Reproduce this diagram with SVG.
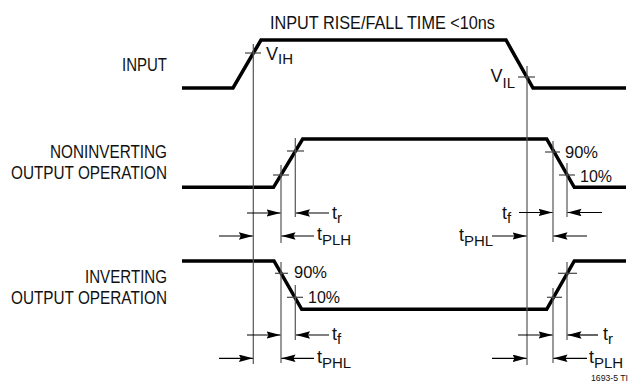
<svg xmlns="http://www.w3.org/2000/svg" width="629" height="385" viewBox="0 0 629 385">
<defs>
<marker id="ah" markerUnits="userSpaceOnUse" markerWidth="15" markerHeight="8" refX="14" refY="3.75" orient="auto">
<path d="M0,0 L14,3.75 L0,7.5 L2,3.75 Z" fill="#000"/>
</marker>
</defs>
<style>
text{font-family:"Liberation Sans","Arial",sans-serif;fill:#111;}
.lbl{font-size:18px;}
.sub{font-size:15px;}
.pct{font-size:17px;}
.wave{fill:none;stroke:#000;stroke-width:3.5;stroke-linejoin:miter;}
.vl{stroke:#555;stroke-width:1.2;fill:none;}
.tk{stroke:#444;stroke-width:1.2;fill:none;}
.ar{stroke:#000;stroke-width:1.2;fill:none;marker-end:url(#ah);}
</style>
<rect width="629" height="385" fill="#fff"/>

<g id="title"><text class="lbl" x="270" y="29.3" textLength="225" lengthAdjust="spacingAndGlyphs">INPUT RISE/FALL TIME &lt;10ns</text></g>

<g id="labels">
<text class="lbl" x="167" y="70.7" text-anchor="end" textLength="45" lengthAdjust="spacingAndGlyphs">INPUT</text>
<text class="lbl" x="167" y="157.7" text-anchor="end" textLength="117" lengthAdjust="spacingAndGlyphs">NONINVERTING</text>
<text class="lbl" x="167" y="179" text-anchor="end" textLength="156" lengthAdjust="spacingAndGlyphs">OUTPUT OPERATION</text>
<text class="lbl" x="167" y="282.7" text-anchor="end" textLength="82" lengthAdjust="spacingAndGlyphs">INVERTING</text>
<text class="lbl" x="167" y="304.3" text-anchor="end" textLength="156" lengthAdjust="spacingAndGlyphs">OUTPUT OPERATION</text>
</g>

<g id="input-wave">
<polyline class="wave" points="182,88 233,88 261,40 506,40 533,88 626,88"/>
<line class="tk" x1="245" y1="53" x2="261" y2="53"/>
<line class="tk" x1="518" y1="77" x2="535" y2="77"/>
<text class="lbl" x="266" y="60">V<tspan class="sub" dy="4">IH</tspan></text>
<text class="lbl" x="515" y="82" text-anchor="end">V<tspan class="sub" dy="6">IL</tspan></text>
</g>

<g id="noninverting-wave">
<polyline class="wave" points="182,187.3 273.5,187.3 302.7,139 546.7,139 574.3,187.3 626,187.3"/>
<line class="tk" x1="273" y1="175" x2="289" y2="175"/>
<line class="tk" x1="287" y1="151" x2="304" y2="151"/>
<line class="tk" x1="545" y1="152" x2="560" y2="152"/>
<line class="tk" x1="559" y1="175" x2="575" y2="175"/>
<text class="pct" x="565" y="158.3" textLength="33" lengthAdjust="spacingAndGlyphs">90%</text>
<text class="pct" x="580" y="182" textLength="32" lengthAdjust="spacingAndGlyphs">10%</text>
</g>

<g id="inverting-wave">
<polyline class="wave" points="182,261 274,261 301.7,309.3 546.7,309.3 574.3,261 626,261"/>
<line class="tk" x1="275" y1="273.3" x2="288" y2="273.3"/>
<line class="tk" x1="287" y1="297.3" x2="303" y2="297.3"/>
<line class="tk" x1="547" y1="297.3" x2="562" y2="297.3"/>
<line class="tk" x1="558" y1="273.3" x2="577" y2="273.3"/>
<text class="pct" x="294" y="277.7" textLength="33" lengthAdjust="spacingAndGlyphs">90%</text>
<text class="pct" x="308" y="303.3" textLength="32" lengthAdjust="spacingAndGlyphs">10%</text>
</g>

<g id="connectors">
<line class="vl" x1="253.3" y1="44" x2="253.3" y2="364"/>
<line class="vl" x1="527" y1="66" x2="527" y2="365"/>
<line class="vl" x1="281" y1="165" x2="281" y2="243"/>
<line class="vl" x1="295.3" y1="138" x2="295.3" y2="217"/>
<line class="vl" x1="553" y1="141" x2="553" y2="242"/>
<line class="vl" x1="567" y1="163" x2="567" y2="217"/>
<line class="vl" x1="281" y1="262" x2="281" y2="363"/>
<line class="vl" x1="295.3" y1="285" x2="295.3" y2="340"/>
<line class="vl" x1="553" y1="288" x2="553" y2="363"/>
<line class="vl" x1="567" y1="262" x2="567" y2="340"/>

<line class="ar" x1="247" y1="213" x2="280.5" y2="213"/>
<line class="ar" x1="329" y1="213" x2="296" y2="213"/>
<line class="ar" x1="219" y1="236" x2="252.8" y2="236"/>
<line class="ar" x1="314" y1="236" x2="281.5" y2="236"/>
<line class="ar" x1="519" y1="212.5" x2="552.5" y2="212.5"/>
<line class="ar" x1="602" y1="212.5" x2="567.5" y2="212.5"/>
<line class="ar" x1="492" y1="236" x2="526.5" y2="236"/>
<line class="ar" x1="587" y1="236" x2="553.5" y2="236"/>

<line class="ar" x1="247" y1="335" x2="280.5" y2="335"/>
<line class="ar" x1="329" y1="335" x2="296" y2="335"/>
<line class="ar" x1="219" y1="358.3" x2="252.8" y2="358.3"/>
<line class="ar" x1="314" y1="358.3" x2="281.5" y2="358.3"/>
<line class="ar" x1="518" y1="335" x2="552.5" y2="335"/>
<line class="ar" x1="598" y1="335" x2="567.5" y2="335"/>
<line class="ar" x1="492" y1="358.3" x2="526.5" y2="358.3"/>
<line class="ar" x1="587" y1="358.3" x2="553.5" y2="358.3"/>
</g>

<g id="timing-labels">
<text class="lbl" x="332" y="219">t<tspan class="sub" dy="4">r</tspan></text>
<text class="lbl" x="317" y="240">t<tspan class="sub" dy="5">PLH</tspan></text>
<text class="lbl" x="502" y="218.5">t<tspan class="sub" dy="4">f</tspan></text>
<text class="lbl" x="459" y="241">t<tspan class="sub" dy="5">PHL</tspan></text>
<text class="lbl" x="332" y="339.5">t<tspan class="sub" dy="4">f</tspan></text>
<text class="lbl" x="317" y="362.5">t<tspan class="sub" dy="5">PHL</tspan></text>
<text class="lbl" x="603" y="340">t<tspan class="sub" dy="4">r</tspan></text>
<text class="lbl" x="589" y="363">t<tspan class="sub" dy="5">PLH</tspan></text>
</g>

<g id="footer"><text x="628" y="381" text-anchor="end" font-size="9" textLength="37" lengthAdjust="spacingAndGlyphs">1693-5 TI</text></g>
</svg>
